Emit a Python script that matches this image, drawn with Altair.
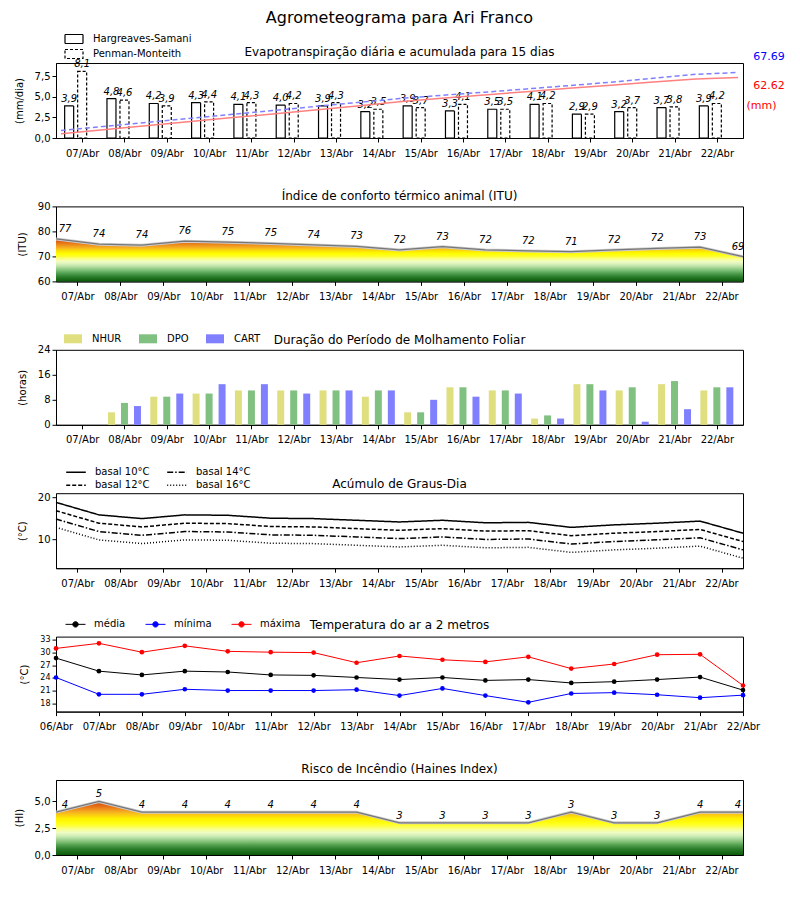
import altair as alt
import pandas as pd

FONT = "DejaVu Sans"
W, H = 687, 75

# ---------------- data ----------------
DAYS = ["07/Abr", "08/Abr", "09/Abr", "10/Abr", "11/Abr", "12/Abr", "13/Abr", "14/Abr",
        "15/Abr", "16/Abr", "17/Abr", "18/Abr", "19/Abr", "20/Abr", "21/Abr", "22/Abr"]
DATES = ["06/Abr"] + DAYS

HS = [3.9, 4.8, 4.2, 4.3, 4.1, 4.0, 3.9, 3.2, 3.9, 3.3, 3.5, 4.1, 2.9, 3.2, 3.7, 3.9]
PM = [8.1, 4.6, 3.9, 4.4, 4.3, 4.2, 4.3, 3.5, 3.7, 4.1, 3.5, 4.2, 2.9, 3.7, 3.8, 4.2]
HS_CUM = [4.4, 8.5, 12.6, 16.7, 20.8, 24.9, 29.0, 33.1, 37.4, 41.1, 44.5, 47.9, 51.3, 54.6, 57.9, 60.9, 62.62]
PM_CUM = [7.8, 12.0, 16.0, 20.2, 24.3, 28.4, 32.6, 36.7, 40.8, 44.1, 47.3, 50.7, 54.1, 57.7, 61.7, 65.8, 67.69]

ITU = [77.0, 74.9, 74.5, 76.1, 75.7, 75.2, 74.6, 74.0, 72.6, 73.9, 72.6, 72.2, 71.9, 72.6, 73.2, 73.7, 69.9]
ITU_LABELS = ["77", "74", "74", "76", "75", "75", "74", "73", "72", "73", "72", "72", "71", "72", "72", "73", "69"]

NHUR = [0, 4, 9, 10, 11, 11, 11, 9, 4, 12, 11, 2, 13, 11, 13, 11]
DPO = [0, 7, 9, 10, 11, 11, 11, 11, 4, 12, 11, 3, 13, 12, 14, 12]
CART = [0, 6, 10, 13, 13, 10, 11, 11, 8, 9, 10, 2, 11, 1, 5, 12]

GD10 = [18.8, 15.8, 14.9, 15.8, 15.7, 15.0, 14.9, 14.5, 14.1, 14.5, 13.9, 14.0, 12.8, 13.4, 13.8, 14.3, 11.4]
GD12 = [16.8, 13.8, 12.9, 13.8, 13.7, 13.0, 12.9, 12.5, 12.1, 12.5, 11.9, 12.0, 10.8, 11.4, 11.8, 12.3, 9.4]
GD14 = [14.8, 11.8, 10.9, 11.8, 11.7, 11.0, 10.9, 10.5, 10.1, 10.5, 9.9, 10.0, 8.8, 9.4, 9.8, 10.3, 7.4]
GD16 = [12.8, 9.8, 8.9, 9.8, 9.7, 9.0, 8.9, 8.5, 8.1, 8.5, 7.9, 8.0, 6.8, 7.4, 7.8, 8.3, 5.4]

TMED = [28.7, 25.6, 24.7, 25.6, 25.4, 24.7, 24.6, 24.1, 23.6, 24.1, 23.4, 23.6, 22.8, 23.1, 23.6, 24.2, 21.1]
TMIN = [24.1, 20.1, 20.1, 21.3, 21.0, 21.0, 21.0, 21.2, 19.8, 21.5, 19.8, 18.2, 20.3, 20.5, 20.0, 19.3, 19.9]
TMAX = [31.0, 32.2, 30.1, 31.6, 30.3, 30.1, 30.0, 27.6, 29.2, 28.3, 27.8, 29.0, 26.2, 27.3, 29.5, 29.6, 22.2]

HAINES = [4, 5, 4, 4, 4, 4, 4, 4, 3, 3, 3, 3, 4, 3, 3, 4, 4]
HAINES_LABELS = ["4", "5", "4", "4", "4", "4", "4", "4", "3", "3", "3", "3", "3", "3", "3", "4", "4"]

# ---------------- helpers ----------------
def lab_expr(labels, fn):
    return "[" + ",".join("'%s'" % s for s in labels) + "][%s(datum.value)]" % fn

XSCALE = alt.Scale(domain=[0, 16], nice=False, zero=False)
AX_DAYS = alt.Axis(values=[i + 0.5 for i in range(16)], labelExpr=lab_expr(DAYS, "floor"),
                   title=None, labelOverlap=False, labelFlush=False)
AX_DATES = alt.Axis(values=list(range(17)), labelExpr=lab_expr(DATES, "round"), title=None,
                    labelOverlap=False, labelFlush=False)
COMMA = "replace(format(datum.value, '.1f'), '.', ',')"

def ptitle(t, dy=0):
    return alt.Title(t, fontSize=12, font=FONT, fontWeight="normal", anchor="middle", offset=6, dy=dy)

RECT = "M-1,-0.5H1V0.5H-1Z"
RECT15 = "M-1.5,-0.75H1.5V0.75H-1.5Z"
LINE14 = "M-1.4,0H1.4"

# ---------------- panel 1: evapotranspiration ----------------
pos = [i + 0.5 for i in range(16)]
ev_df = pd.concat([
    pd.DataFrame({"pos": pos, "v": HS, "m": "Hargreaves-Samani"}),
    pd.DataFrame({"pos": pos, "v": PM, "m": "Penman-Monteith"}),
])
cum_df = pd.concat([
    pd.DataFrame({"i": list(range(17)), "v": HS_CUM, "m": "HS"}),
    pd.DataFrame({"i": list(range(17)), "v": PM_CUM, "m": "PM"}),
])

x_pos = alt.X("pos:Q", scale=XSCALE, axis=AX_DAYS)
x_i = alt.X("i:Q", scale=XSCALE, axis=AX_DAYS)
yL = alt.Y("v:Q", scale=alt.Scale(domain=[0, 9.13], nice=False),
           axis=alt.Axis(values=[0, 2.5, 5, 7.5], labelExpr=COMMA, title="(mm/dia)"))
yR = alt.Y("v:Q", scale=alt.Scale(domain=[0, 77.5], nice=False),
           axis=alt.Axis(orient="right", title="(mm)", domain=False, ticks=False, labels=False,
                         titleColor="red", titleAngle=0, titleFontSize=11, titleX=18, titleY=42,
                         titleAlign="center", titleBaseline="middle"))
dash1 = alt.StrokeDash("m:N", scale=alt.Scale(domain=["Hargreaves-Samani", "Penman-Monteith"],
                                               range=[[1, 0], [3, 2]]),
                       legend=alt.Legend(title=None, orient="none", legendX=11, legendY=-31,
                                         direction="vertical", symbolType=RECT15, symbolSize=144,
                                         symbolStrokeColor="black", symbolStrokeWidth=1.2,
                                         labelFontSize=10, rowPadding=1, labelOffset=12, padding=0))
LBL = "replace(format(datum.v, '.1f'), '.', ',')"
bar_hs = alt.Chart(ev_df).transform_filter("datum.m == 'Hargreaves-Samani'").mark_bar(
    width=9, xOffset=-13, filled=False, color="black", strokeWidth=1.2).encode(
    x=x_pos, y=yL, strokeDash=dash1)
bar_pm = alt.Chart(ev_df).transform_filter("datum.m == 'Penman-Monteith'").mark_bar(
    width=9, xOffset=0, filled=False, color="black", strokeWidth=1.2).encode(
    x=x_pos, y=yL, strokeDash=dash1)
txt_hs = alt.Chart(ev_df).transform_filter("datum.m == 'Hargreaves-Samani'").transform_calculate(
    t=LBL).mark_text(dx=-13, dy=-2, baseline="bottom", fontStyle="italic", fontSize=10, font=FONT).encode(
    x=x_pos, y=yL, text="t:N")
txt_pm = alt.Chart(ev_df).transform_filter("datum.m == 'Penman-Monteith'").transform_calculate(
    t=LBL).mark_text(dx=0, dy=-2, baseline="bottom", fontStyle="italic", fontSize=10, font=FONT).encode(
    x=x_pos, y=yL, text="t:N")
left1 = alt.layer(bar_hs, bar_pm, txt_hs, txt_pm)

line_hs = alt.Chart(cum_df).transform_filter("datum.m == 'HS'").mark_line(
    color="#ff8080", strokeWidth=1.5).encode(x=x_i, y=yR)
line_pm = alt.Chart(cum_df).transform_filter("datum.m == 'PM'").mark_line(
    color="#8080ff", strokeWidth=1.5, strokeDash=[5, 3]).encode(x=x_i, y=yR)
tot_pm = alt.Chart(cum_df).transform_filter("datum.m == 'PM' && datum.i == 16").transform_calculate(
    t="format(datum.v, '.2f')").mark_text(dx=31, dy=-15, color="blue", fontSize=11, font=FONT).encode(
    x=x_i, y=yR, text="t:N")
tot_hs = alt.Chart(cum_df).transform_filter("datum.m == 'HS' && datum.i == 16").transform_calculate(
    t="format(datum.v, '.2f')").mark_text(dx=31, dy=9, color="red", fontSize=11, font=FONT).encode(
    x=x_i, y=yR, text="t:N")
right1 = alt.layer(line_hs, line_pm, tot_pm, tot_hs)

p1 = alt.layer(left1, right1).resolve_scale(y="independent").properties(
    width=W, height=H, title=ptitle("Evapotranspiração diária e acumulada para 15 dias", dy=33))

# ---------------- value labels with edge nudges ----------------
def edge_labels(df, y, dy):
    mid = alt.Chart(df).transform_filter("datum.i > 0 && datum.i < 16").mark_text(
        dy=dy, fontStyle="italic", fontSize=10, font=FONT).encode(x=x_i, y=y, text="lab:N")
    first = alt.Chart(df).transform_filter("datum.i == 0").mark_text(
        dx=9, dy=dy, fontStyle="italic", fontSize=10, font=FONT).encode(x=x_i, y=y, text="lab:N")
    last = alt.Chart(df).transform_filter("datum.i == 16").mark_text(
        dx=-5, dy=dy, fontStyle="italic", fontSize=10, font=FONT).encode(x=x_i, y=y, text="lab:N")
    return [mid, first, last]

# ---------------- panel 2: ITU ----------------
itu_df = pd.DataFrame({"i": list(range(17)), "v": ITU, "lab": ITU_LABELS})
y_itu = alt.Y("v:Q", scale=alt.Scale(domain=[60, 90], nice=False, zero=False),
              axis=alt.Axis(values=[60, 70, 80, 90], title="(ITU)"))

def stops_itu():
    lo, hi = 60.0, max(ITU)
    pts = [(60, "#0b5a0b"), (61, "#1b6d1b"), (62, "#2f812f"), (63, "#4a9a4a"), (64, "#6cb46a"),
           (65, "#92cb86"), (66, "#b9e0a6"), (67, "#dcf2bd"), (68, "#f1fcc0"), (69, "#fbff8a"),
           (70, "#ffff30"), (71, "#ffff00"), (72, "#fde800"), (73, "#f8c21c"), (74, "#f2a020"),
           (75, "#ea8018"), (76, "#e06010"), (77, "#cf4a0a")]
    return [alt.GradientStop(color=c, offset=min(1.0, max(0.0, (v - lo) / (hi - lo)))) for v, c in pts]

grad_itu = alt.LinearGradient(gradient="linear", stops=stops_itu(), x1=0, x2=0, y1=1, y2=0)
area_itu = alt.Chart(itu_df).mark_area(color=grad_itu).encode(x=x_i, y=y_itu, y2=alt.datum(60))
halo_itu = alt.Chart(itu_df).mark_line(color="#cccccc", strokeWidth=3).encode(x=x_i, y=y_itu)
line_itu = alt.Chart(itu_df).mark_line(color="#777777", strokeWidth=1.3).encode(x=x_i, y=y_itu)
p2 = alt.layer(area_itu, halo_itu, line_itu, *edge_labels(itu_df, y_itu, -10)).properties(
    width=W, height=H, title=ptitle("Índice de conforto térmico animal (ITU)", dy=8))

# ---------------- panel 3: leaf wetness ----------------
mol_df = pd.concat([
    pd.DataFrame({"pos": pos, "v": NHUR, "s": "NHUR"}),
    pd.DataFrame({"pos": pos, "v": DPO, "s": "DPO"}),
    pd.DataFrame({"pos": pos, "v": CART, "s": "CART"}),
])
y_mol = alt.Y("v:Q", scale=alt.Scale(domain=[0, 24], nice=False),
              axis=alt.Axis(values=[0, 8, 16, 24], title="(horas)"))
col3 = alt.Color("s:N", scale=alt.Scale(domain=["NHUR", "DPO", "CART"],
                                        range=["#dfdf80", "#80c080", "#8080ff"]),
                 legend=alt.Legend(title=None, orient="none", legendX=8, legendY=-20,
                                   direction="horizontal", symbolType=RECT, symbolSize=324,
                                   symbolStrokeWidth=0, labelFontSize=10, columnPadding=17,
                                   labelOffset=10, padding=0))
bars3 = []
for name, off in [("NHUR", -13), ("DPO", 0), ("CART", 13)]:
    bars3.append(alt.Chart(mol_df).transform_filter("datum.s == '%s'" % name).mark_bar(
        width=7, xOffset=off, opacity=1).encode(x=x_pos, y=y_mol, color=col3))
p3 = alt.layer(*bars3).properties(width=W, height=H,
                                   title=ptitle("Duração do Período de Molhamento Foliar", dy=23))

# ---------------- panel 4: degree days ----------------
gd_df = pd.concat([
    pd.DataFrame({"i": list(range(17)), "v": GD10, "s": "basal 10°C"}),
    pd.DataFrame({"i": list(range(17)), "v": GD12, "s": "basal 12°C"}),
    pd.DataFrame({"i": list(range(17)), "v": GD14, "s": "basal 14°C"}),
    pd.DataFrame({"i": list(range(17)), "v": GD16, "s": "basal 16°C"}),
])
y_gd = alt.Y("v:Q", scale=alt.Scale(domain=[3, 21], nice=False, zero=False),
             axis=alt.Axis(values=[10, 20], title="(°C)"))
dash4 = alt.StrokeDash("s:N", scale=alt.Scale(
    domain=["basal 10°C", "basal 12°C", "basal 14°C", "basal 16°C"],
    range=[[1, 0], [4, 2], [6, 2, 1.5, 2], [1, 2]]),
    legend=alt.Legend(title=None, orient="none", legendX=12, legendY=-29, columns=2,
                      symbolType=LINE14, symbolSize=196, symbolStrokeColor="black",
                      symbolStrokeWidth=1.5, labelFontSize=10, columnPadding=14, rowPadding=0,
                      labelOffset=11, padding=0))
p4 = alt.Chart(gd_df).mark_line(color="black", strokeWidth=1.5).encode(
    x=x_i, y=y_gd, strokeDash=dash4, detail="s:N").properties(
    width=W, height=H, title=ptitle("Acúmulo de Graus-Dia", dy=33))

# ---------------- panel 5: air temperature ----------------
t_df = pd.concat([
    pd.DataFrame({"i": list(range(17)), "v": TMED, "s": "média"}),
    pd.DataFrame({"i": list(range(17)), "v": TMIN, "s": "mínima"}),
    pd.DataFrame({"i": list(range(17)), "v": TMAX, "s": "máxima"}),
])
x_t = alt.X("i:Q", scale=XSCALE, axis=AX_DATES)
y_t = alt.Y("v:Q", scale=alt.Scale(domain=[16, 33.8], nice=False, zero=False),
            axis=alt.Axis(values=[18, 21, 24, 27, 30, 33], labelFontSize=8, title="(°C)"))
tscale = alt.Scale(domain=["média", "mínima", "máxima"], range=["black", "blue", "red"])
LINEDOT = "M-1,0H1M-0.27,0A0.27,0.27,0,1,0,0.27,0A0.27,0.27,0,1,0,-0.27,0Z"
leg5 = alt.Legend(title=None, orient="none", legendX=9, legendY=-23, direction="horizontal",
                  symbolType=LINEDOT, symbolSize=400, symbolStrokeWidth=1, labelFontSize=10,
                  columnPadding=17, labelOffset=8, padding=0)
lines5 = alt.Chart(t_df).mark_line(strokeWidth=1).encode(
    x=x_t, y=y_t, stroke=alt.Stroke("s:N", scale=tscale, legend=leg5))
pts5 = alt.Chart(t_df).mark_circle(size=22, opacity=1).encode(
    x=x_t, y=y_t, fill=alt.Fill("s:N", scale=tscale, legend=leg5))
p5 = alt.layer(lines5, pts5).properties(width=W, height=H,
                                         title=ptitle("Temperatura do ar a 2 metros", dy=24))

# ---------------- panel 6: Haines ----------------
hi_df = pd.DataFrame({"i": list(range(17)), "v": HAINES, "lab": HAINES_LABELS})
y_hi = alt.Y("v:Q", scale=alt.Scale(domain=[0, 7], nice=False),
             axis=alt.Axis(values=[0, 2.5, 5], labelExpr=COMMA, title="(HI)"))

def stops_hi():
    hi = float(max(HAINES))
    pts = [(0.0, "#0b5a0b"), (0.3, "#1b6d1b"), (0.6, "#2f812f"), (0.9, "#4f9d4c"), (1.2, "#7bbd70"),
           (1.5, "#a8d89a"), (1.8, "#d2efb8"), (2.1, "#eefbc2"), (2.4, "#f8ff90"), (2.7, "#ffff40"),
           (3.0, "#ffff10"), (3.4, "#fff000"), (3.7, "#fbd010"), (4.0, "#f5b020"), (4.3, "#ee8c1c"),
           (4.6, "#e46814"), (5.0, "#d04a0a")]
    return [alt.GradientStop(color=c, offset=v / hi) for v, c in pts]

grad_hi = alt.LinearGradient(gradient="linear", stops=stops_hi(), x1=0, x2=0, y1=1, y2=0)
area_hi = alt.Chart(hi_df).mark_area(color=grad_hi).encode(x=x_i, y=y_hi, y2=alt.datum(0))
halo_hi = alt.Chart(hi_df).mark_line(color="#cccccc", strokeWidth=3).encode(x=x_i, y=y_hi)
line_hi = alt.Chart(hi_df).mark_line(color="#777777", strokeWidth=1.3).encode(x=x_i, y=y_hi)
p6 = alt.layer(area_hi, halo_hi, line_hi, *edge_labels(hi_df, y_hi, -7)).properties(
    width=W, height=H, title=ptitle("Risco de Incêndio (Haines Index)", dy=2))

# ---------------- assemble ----------------
chart = alt.vconcat(p1, p2, p3, p4, p5, p6, spacing=68.4, bounds="flush").resolve_scale(
    color="independent", strokeDash="independent", stroke="independent", fill="independent"
).properties(
    title=alt.Title("Agrometeograma para Ari Franco", fontSize=16, font=FONT,
                    fontWeight="normal", anchor="middle", offset=6),
    padding={"left": 5, "top": 1, "right": 5, "bottom": 5},
).configure(font=FONT).configure_view(stroke="black", strokeWidth=1).configure_axis(
    grid=False, domainColor="black", tickColor="black", labelColor="black", titleColor="black",
    labelFontSize=10, titleFontSize=10, titleFontWeight="normal", tickSize=4,
    labelFont=FONT, titleFont=FONT
).configure_axisX(labelPadding=6).configure_axisY(labelPadding=2, titlePadding=10
).configure_legend(labelFont=FONT, labelColor="black")

chart.save("out.html", embed_options={"renderer": "svg", "actions": False})
